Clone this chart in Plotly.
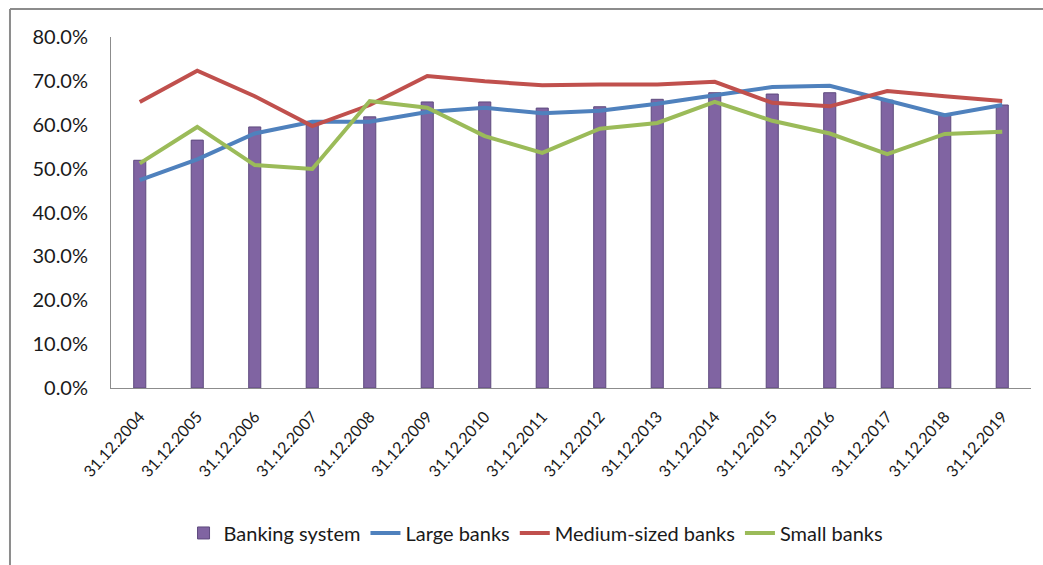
import plotly.graph_objects as go

categories = ["31.12.2004", "31.12.2005", "31.12.2006", "31.12.2007", "31.12.2008",
              "31.12.2009", "31.12.2010", "31.12.2011", "31.12.2012", "31.12.2013",
              "31.12.2014", "31.12.2015", "31.12.2016", "31.12.2017", "31.12.2018",
              "31.12.2019"]
banking_system = [51.9, 56.5, 59.5, 60.5, 61.8, 65.2, 65.2, 63.8, 64.1, 65.8,
                  67.3, 67.0, 67.3, 65.6, 62.2, 64.5]
large_banks = [47.4, 52.1, 58.0, 60.7, 60.7, 62.9, 63.9, 62.6, 63.2, 64.8,
               66.7, 68.6, 68.9, 65.6, 62.2, 64.5]
medium_banks = [65.2, 72.3, 66.5, 59.7, 64.5, 71.1, 69.9, 69.0, 69.2, 69.2,
                69.8, 65.0, 64.2, 67.7, 66.5, 65.4]
small_banks = [51.2, 59.5, 50.8, 49.9, 65.4, 63.9, 57.4, 53.6, 59.1, 60.4,
               65.2, 60.9, 58.0, 53.3, 57.9, 58.4]
y_ticks = [0, 10, 20, 30, 40, 50, 60, 70, 80]
y_tick_labels = ["0.0%", "10.0%", "20.0%", "30.0%", "40.0%", "50.0%", "60.0%", "70.0%", "80.0%"]

FONT = "Lato, Liberation Sans, Arial, sans-serif"
TXT = "#1a1a1a"

fig = go.Figure()
fig.add_trace(go.Bar(x=categories, y=banking_system, name="Banking system",
                     marker=dict(color="#8064A2", line=dict(color="#5E4A7E", width=1)),
                     width=0.21))
fig.add_trace(go.Scatter(x=categories, y=large_banks, name="Large banks", mode="lines",
                         line=dict(color="#4F81BD", width=4)))
fig.add_trace(go.Scatter(x=categories, y=medium_banks, name="Medium-sized banks", mode="lines",
                         line=dict(color="#C0504D", width=4)))
fig.add_trace(go.Scatter(x=categories, y=small_banks, name="Small banks", mode="lines",
                         line=dict(color="#9BBB59", width=4)))

fig.update_layout(
    width=1043, height=565,
    margin=dict(l=111, r=12, t=37, b=177),
    paper_bgcolor="white", plot_bgcolor="white",
    font=dict(family=FONT, color=TXT),
    showlegend=True,
    legend=dict(orientation="h", x=0.462, xanchor="center", y=-0.413, yanchor="middle",
                font=dict(size=20, family=FONT, color=TXT), itemwidth=30,
                bgcolor="rgba(0,0,0,0)"),
)
fig.update_xaxes(showgrid=False, showline=True, linecolor="#8C8C8C", linewidth=1,
                 tickangle=-48, tickfont=dict(size=16, family=FONT, color=TXT),
                 ticks="", ticklabelstandoff=12)
fig.update_yaxes(range=[0, 80], tickmode="array", tickvals=y_ticks, ticktext=y_tick_labels,
                 showgrid=False, zeroline=False, showline=True, linecolor="#8C8C8C",
                 linewidth=1, tickfont=dict(size=20, family=FONT, color=TXT),
                 ticks="", ticklabelstandoff=18)

# outer frame (top and left edges visible)
fig.add_shape(type="line", xref="paper", yref="paper", x0=-0.1098, x1=1.02,
              y0=1.0798, y1=1.0798, line=dict(color="#8C8C8C", width=2))
fig.add_shape(type="line", xref="paper", yref="paper", x0=-0.1098, x1=-0.1098,
              y0=1.0798, y1=-0.51, line=dict(color="#8C8C8C", width=2))

fig.write_html("out.html")
